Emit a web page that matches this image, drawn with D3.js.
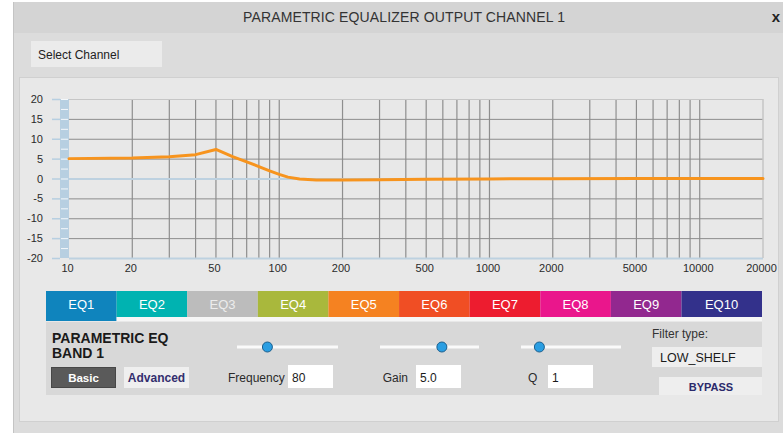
<!DOCTYPE html>
<html>
<head>
<meta charset="utf-8">
<script src="https://cdn.jsdelivr.net/npm/d3@7"></script>
<style>
  body { margin: 0; background: #fff; }
  svg { display: block; font-family: Arial, "Liberation Sans", sans-serif; }
</style>
</head>
<body>
<div id="chart"></div>
<script>
// response curve of band 1
const freqs = [10, 20, 30, 40, 50, 60, 70, 80, 90, 100, 110, 125, 150, 200, 300, 500, 1000, 2000, 5000, 10000, 20000];
const gains = [5.0, 5.15, 5.45, 6.0, 7.3, 5.5, 4.2, 3.0, 1.9, 1.05, 0.35, -0.15, -0.35, -0.4, -0.3, -0.2, -0.1, -0.05, 0, 0, 0];

const xTicks = [10, 20, 50, 100, 200, 500, 1000, 2000, 5000, 10000, 20000];
const yTicks = [20, 15, 10, 5, 0, -5, -10, -15, -20];
const xGrid = [20, 30, 40, 50, 60, 70, 80, 90, 100, 200, 300, 400, 500, 600, 700, 800, 900,
               1000, 2000, 3000, 4000, 5000, 6000, 7000, 8000, 9000, 10000];

const tabLabels = ["EQ1", "EQ2", "EQ3", "EQ4", "EQ5", "EQ6", "EQ7", "EQ8", "EQ9", "EQ10"];
const tabColors = ["#0f84bd", "#00b3b1", "#bcbcbc", "#a9b83c", "#f58221", "#f04e24", "#ed1c2f", "#ea168c", "#92288f", "#33318b"];

const frequency = 80, gain = 5.0, q = 1;
const filterType = "LOW_SHELF";

const W = 783, H = 433;
const svg = d3.select("#chart").append("svg").attr("width", W).attr("height", H);

// window chrome
svg.append("rect").attr("x", 13).attr("y", 2).attr("width", W - 13).attr("height", 31).attr("fill", "#d4d4d4");
svg.append("rect").attr("x", 13).attr("y", 33).attr("width", W - 13).attr("height", H - 33).attr("fill", "#dcdcdc");
svg.append("line").attr("x1", 13.5).attr("x2", 13.5).attr("y1", 2).attr("y2", H).attr("stroke", "#c4c4c4");
svg.append("text").attr("x", 404).attr("y", 22).attr("text-anchor", "middle")
  .attr("font-size", 14).attr("fill", "#333").attr("textLength", 322)
  .text("PARAMETRIC EQUALIZER OUTPUT CHANNEL 1");
svg.append("text").attr("x", 776).attr("y", 22).attr("text-anchor", "middle")
  .attr("font-size", 15).attr("font-weight", "bold").attr("fill", "#222").text("x");

svg.append("rect").attr("x", 31).attr("y", 41).attr("width", 131).attr("height", 26).attr("fill", "#ebebeb");
svg.append("text").attr("x", 38).attr("y", 59).attr("font-size", 12).attr("fill", "#222").text("Select Channel");

svg.append("rect").attr("x", 19.5).attr("y", 77.5).attr("width", 759).attr("height", 344)
  .attr("fill", "#e8e8e8").attr("stroke", "#d0d0d0");

// chart
const x = d3.scaleLog().domain([10, 20000]).range([69, 763]);
const y = d3.scaleLinear().domain([-20, 20]).range([258, 99]);

const chart = svg.append("g");

chart.selectAll(".vgrid").data(xGrid).enter().append("line")
  .attr("x1", d => x(d)).attr("x2", d => x(d))
  .attr("y1", y(20)).attr("y2", y(-20))
  .attr("stroke", "#8e8e8e").attr("stroke-width", 1.2);

chart.selectAll(".hgrid").data(yTicks).enter().append("line")
  .attr("x1", x(10)).attr("x2", x(20000))
  .attr("y1", d => y(d) + 0.5).attr("y2", d => y(d) + 0.5)
  .attr("stroke", d => (d === 0 || d === -20) ? "#bdd1e0" : d === 20 ? "#c6c6c6" : "#8c8c8c")
  .attr("stroke-width", d => (d === 0 || d === -20) ? 2 : 1);

chart.append("line").attr("x1", x(20000)).attr("x2", x(20000))
  .attr("y1", y(20)).attr("y2", y(-20)).attr("stroke", "#c6c6c6").attr("stroke-width", 1.5);

// gain strip on the left
chart.append("rect").attr("x", 60).attr("y", y(20)).attr("width", x(10) - 60).attr("height", y(-20) - y(20))
  .attr("fill", "#b7cfe1");
chart.selectAll(".strip").data(d3.range(-17.5, 20.1, 2.5)).enter().append("line")
  .attr("x1", 61).attr("x2", x(10) - 1)
  .attr("y1", d => y(d) + 0.5).attr("y2", d => y(d) + 0.5)
  .attr("stroke", "#f4f8fb").attr("stroke-width", 1);

const yAxis = chart.append("g").attr("transform", "translate(60,0)")
  .call(d3.axisLeft(y).tickValues(yTicks).tickFormat(d => String(d)).tickSize(8).tickPadding(9));
yAxis.select(".domain").remove();
yAxis.selectAll(".tick line").attr("stroke", "#b7cfe1").attr("stroke-width", 1.5);
yAxis.selectAll(".tick text").attr("font-size", 11).attr("fill", "#2a2a2a").attr("font-family", null);

const xAxis = chart.append("g").attr("transform", `translate(0,${y(-20)})`)
  .call(d3.axisBottom(x).tickValues(xTicks).tickFormat(d3.format("d")).tickSize(0).tickPadding(6));
xAxis.select(".domain").remove();
xAxis.selectAll(".tick text").attr("font-size", 11).attr("fill", "#2a2a2a").attr("dx", -2).attr("font-family", null);

const curve = freqs.map((f, i) => ({ f, g: gains[i] }));
chart.append("path").datum(curve)
  .attr("fill", "none").attr("stroke", "#f7941e").attr("stroke-width", 3)
  .attr("stroke-linejoin", "round").attr("stroke-linecap", "round")
  .attr("d", d3.line().x(d => x(d.f)).y(d => y(d.g)));

// band tabs
const tabX = d3.scaleBand().domain(tabLabels.slice(0, 9)).range([46, 681.5]);
const tabs = svg.selectAll(".tab").data(tabLabels).enter().append("g");
tabs.append("rect")
  .attr("x", d => d === "EQ10" ? 681.5 : tabX(d))
  .attr("y", 291)
  .attr("width", d => d === "EQ10" ? 80.5 : tabX.bandwidth())
  .attr("height", (d, i) => i === 0 ? 30 : 26)
  .attr("fill", (d, i) => tabColors[i]);
svg.append("rect").attr("x", tabX("EQ2")).attr("y", 317).attr("width", 762 - tabX("EQ2")).attr("height", 4).attr("fill", "#f6f6f6");
tabs.append("text")
  .attr("x", d => d === "EQ10" ? 681.5 + 40 : tabX(d) + tabX.bandwidth() / 2)
  .attr("y", 309).attr("text-anchor", "middle").attr("font-size", 13)
  .attr("fill", d => d === "EQ3" ? "#ececec" : "#fff")
  .text(d => d);

// control panel
const panel = svg.append("g");
panel.append("rect").attr("x", 46).attr("y", 322).attr("width", 716).attr("height", 73).attr("fill", "#d8d8d8");
panel.append("text").attr("x", 52).attr("y", 343).attr("font-size", 14).attr("font-weight", "bold").attr("fill", "#1a1a1a").text("PARAMETRIC EQ");
panel.append("text").attr("x", 52).attr("y", 358).attr("font-size", 14).attr("font-weight", "bold").attr("fill", "#1a1a1a").text("BAND 1");

panel.append("rect").attr("x", 51.5).attr("y", 367.5).attr("width", 64).attr("height", 20).attr("fill", "#5a5a5a").attr("stroke", "#474747");
panel.append("text").attr("x", 83.5).attr("y", 381.5).attr("text-anchor", "middle").attr("font-size", 11.5).attr("font-weight", "bold").attr("fill", "#fff").text("Basic");
panel.append("rect").attr("x", 124).attr("y", 367).attr("width", 65).attr("height", 21).attr("fill", "#efefef");
panel.append("text").attr("x", 156.5).attr("y", 382).attr("text-anchor", "middle").attr("font-size", 12).attr("font-weight", "bold").attr("fill", "#332e6e").text("Advanced");

const sliders = [
  { scale: d3.scaleLog().domain([20, 2000]).range([237, 338]), value: frequency, label: "Frequency", lx: 228, anchor: "start", box: 288, text: String(frequency) },
  { scale: d3.scaleLinear().domain([-20, 20]).range([380, 479]), value: gain, label: "Gain", lx: 408, anchor: "end", box: 416, text: d3.format(".1f")(gain) },
  { scale: d3.scaleLinear().domain([0.1, 5]).range([521, 621]), value: q, label: "Q", lx: 528, anchor: "start", box: 548, text: String(q) }
];
sliders.forEach(s => {
  const [a, b] = s.scale.range();
  panel.append("line").attr("x1", a).attr("x2", b).attr("y1", 347).attr("y2", 347).attr("stroke", "#fafafa").attr("stroke-width", 3);
  panel.append("circle").attr("cx", s.scale(s.value)).attr("cy", 347).attr("r", 5)
    .attr("fill", "#2a9ee2").attr("stroke", "#1b5f8e").attr("stroke-width", 1);
  panel.append("text").attr("x", s.lx).attr("y", 382).attr("text-anchor", s.anchor).attr("font-size", 12).attr("fill", "#2a2a2a").text(s.label);
  panel.append("rect").attr("x", s.box).attr("y", 365).attr("width", 45).attr("height", 23).attr("fill", "#fff");
  panel.append("text").attr("x", s.box + 4).attr("y", 382).attr("font-size", 12).attr("fill", "#1a1a1a").text(s.text);
});

panel.append("text").attr("x", 652).attr("y", 338).attr("font-size", 12).attr("fill", "#333").text("Filter type:");
panel.append("rect").attr("x", 652).attr("y", 347).attr("width", 110).attr("height", 20).attr("fill", "#eeeeee");
panel.append("text").attr("x", 660).attr("y", 362).attr("font-size", 12.5).attr("fill", "#1a1a1a").text(filterType);
panel.append("rect").attr("x", 659).attr("y", 377).attr("width", 103).attr("height", 18).attr("fill", "#eeeeee");
panel.append("text").attr("x", 711).attr("y", 390.5).attr("text-anchor", "middle").attr("font-size", 11).attr("font-weight", "bold").attr("fill", "#2b2a6b").text("BYPASS");
</script>
</body>
</html>
